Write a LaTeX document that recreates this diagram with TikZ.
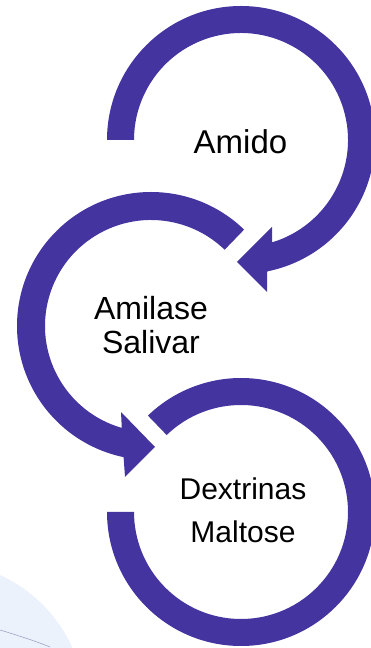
\documentclass[tikz,border=0pt]{standalone}
\usepackage{fontspec}
\setmainfont{Liberation Sans}
\usetikzlibrary{calc}

\definecolor{ringpurple}{RGB}{68,52,160}
\definecolor{bgblue}{RGB}{236,242,252}
\definecolor{bgline}{RGB}{160,164,196}

\tikzset{
  ring/.style={fill=ringpurple, draw=none},
  txt/.style={font=\fontsize{32}{34}\selectfont, align=center, inner sep=0pt}
}

\begin{document}
\begin{tikzpicture}[x=1pt,y=1pt]
\useasboundingbox (0,0) rectangle (370,648);

% faint background in the corner
\fill[bgblue] (-60,-59) circle (145pt);
\draw[bgline, line width=0.6pt] (0,18) .. controls (20,12) and (38,6) .. (50,1);

% centres of the three rings
\coordinate (c1) at (241,508);
\coordinate (c2) at (151,322);
\coordinate (c3) at (241,136);

% top ring, arrow going clockwise
\fill[ring] ($(c1)+(180:134pt)$) arc[start angle=180, end angle=-78.7, radius=134pt]
  -- (267,356) -- (237,386) -- (272,421)
  -- ($(c1)+(-73.1:107pt)$) arc[start angle=-73.1, end angle=180, radius=107pt] -- cycle;

% middle ring, arrow going anticlockwise
\fill[ring] ($(c2)+(46:134pt)$) arc[start angle=46, end angle=258.2, radius=134pt]
  -- (125,171) -- (155,201) -- (121,236)
  -- ($(c2)+(254:106pt)$) arc[start angle=254, end angle=46, radius=106pt] -- cycle;

% bottom ring, no head
\fill[ring] ($(c3)+(180:134pt)$) arc[start angle=180, end angle=494, radius=134pt]
  -- ($(c3)+(494:107pt)$) arc[start angle=494, end angle=180, radius=107pt] -- cycle;

% texts
\node[txt, font=\fontsize{33}{36}\selectfont] (amido) at (240.5,506.5) {Amido};
\node[txt] (amilase) at (151,322.5) {Amilase\\Salivar};
\node[txt, font=\fontsize{30}{43}\selectfont] (dextrinas) at (243,137.5) {Dextrinas\\Maltose};
\end{tikzpicture}
\end{document}
